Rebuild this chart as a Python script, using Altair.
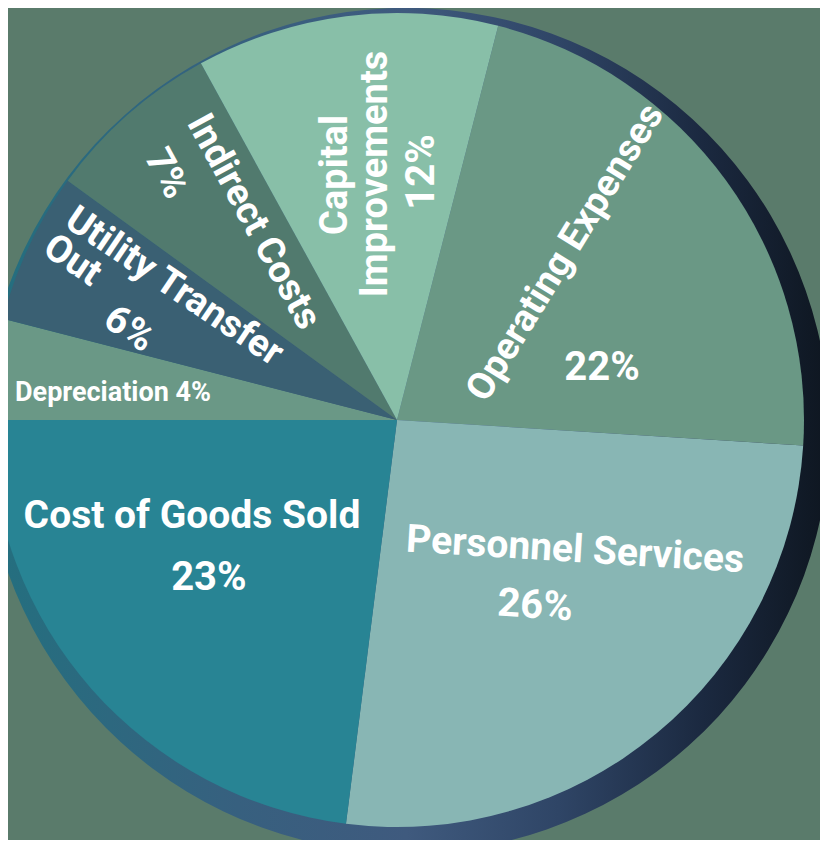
import math
import altair as alt
import pandas as pd

# ---- data ----
categories = [
    "Operating Expenses",
    "Personnel Services",
    "Cost of Goods Sold",
    "Depreciation",
    "Utility Transfer Out",
    "Indirect Costs",
    "Capital Improvements",
]
shares = [22, 26, 23, 4, 6, 7, 12]
slice_colors = ["#6a9885", "#88b6b4", "#288494", "#6a9886", "#3a6073", "#517a6e", "#88bfa8"]

df = pd.DataFrame({"category": categories, "share": shares, "order": list(range(len(categories)))})
ring_df = pd.DataFrame({"total": [sum(shares)]})

# ---- layout ----
W, H = 778, 824           # plot area; pie centre sits at its middle
R = 407                   # pie radius
START = math.radians(14.4)
theta_scale = alt.Scale(domain=[0, 100], range=[START, START + 2 * math.pi])
FONT = "Roboto"

base = (
    alt.Chart(df)
    .transform_window(cum="sum(share)", sort=[alt.SortField("order")])
    .transform_calculate(start="datum.cum - datum.share", mid="datum.cum - datum.share / 2")
)

ring = alt.Chart(ring_df).mark_arc(
    radius=422.5,
    xOffset=9.5,
    yOffset=10.5,
    color=alt.Gradient(
        gradient="linear",
        x1=0, x2=1, y1=0, y2=0,
        stops=[
            alt.GradientStop(offset=0.0, color="#23707f"),
            alt.GradientStop(offset=0.3, color="#37607f"),
            alt.GradientStop(offset=0.5, color="#3f5a7e"),
            alt.GradientStop(offset=0.68, color="#2f4566"),
            alt.GradientStop(offset=0.85, color="#1b2940"),
            alt.GradientStop(offset=1.0, color="#0e1620"),
        ],
    ),
).encode(theta=alt.Theta("total:Q", scale=theta_scale))

pie = base.mark_arc(radius=R).encode(
    theta=alt.Theta("start:Q", scale=theta_scale, stack=None),
    theta2="cum:Q",
    color=alt.Color("category:N", scale=alt.Scale(domain=categories, range=slice_colors), legend=None),
)


def pct(cat):
    return f"{shares[categories.index(cat)]}%"


# text, category, rotation, theta offset (deg), radius, font size
label_specs = [
    ("Operating Expenses", "Operating Expenses", 301.6, -8.7, 237.6, 38),
    (pct("Operating Expenses"), "Operating Expenses", 0, 21.8, 211.5, 40),
    ("Personnel Services", "Personnel Services", 3.5, -14.3, 220.4, 39),
    (pct("Personnel Services"), "Personnel Services", 3.5, 3.0, 231.6, 40),
    ("Cost of Goods Sold", "Cost of Goods Sold", 0, 16.3, 226.4, 39),
    (pct("Cost of Goods Sold"), "Cost of Goods Sold", 0, 1.4, 245.6, 40),
    ("Depreciation " + pct("Depreciation"), "Depreciation", 0, -1.7, 285.3, 27),
    ("Utility Transfer", "Utility Transfer Out", 34, 5.6, 259.6, 38),
    ("Out", "Utility Transfer Out", 34, 0.9, 361.8, 38),
    (pct("Utility Transfer Out"), "Utility Transfer Out", 34, -6.4, 283.0, 39),
    ("Indirect Costs", "Indirect Costs", 61.4, 5.4, 244.8, 38),
    (pct("Indirect Costs"), "Indirect Costs", 61.4, -1.8, 337.5, 38),
    ("Capital", "Capital Improvements", 270, -6.8, 252.5, 38),
    ("Improvements", "Capital Improvements", 270, 2.3, 246.9, 38),
    (pct("Capital Improvements"), "Capital Improvements", 270, 13.0, 249.3, 40),
]

layers = [ring, pie]
for text, cat, rot, dth, rad, size in label_specs:
    layers.append(
        base.transform_filter(alt.datum.category == cat)
        .mark_text(
            text=text,
            radius=rad,
            thetaOffset=math.radians(dth),
            angle=rot,
            font=FONT,
            fontWeight="bold",
            fontSize=size,
            color="white",
            align="center",
            baseline="middle",
        )
        .encode(theta=alt.Theta("mid:Q", scale=theta_scale, stack=None))
    )

chart = (
    alt.layer(*layers)
    .properties(
        width=W,
        height=H,
        autosize=alt.AutoSizeParams(type="none"),
        padding={"left": 0, "top": 0, "right": 34, "bottom": 8},
        background="#5a7b6b",
    )
    .configure_view(stroke=None)
)

chart.save("out.html", embed_options={"renderer": "svg", "actions": False})
